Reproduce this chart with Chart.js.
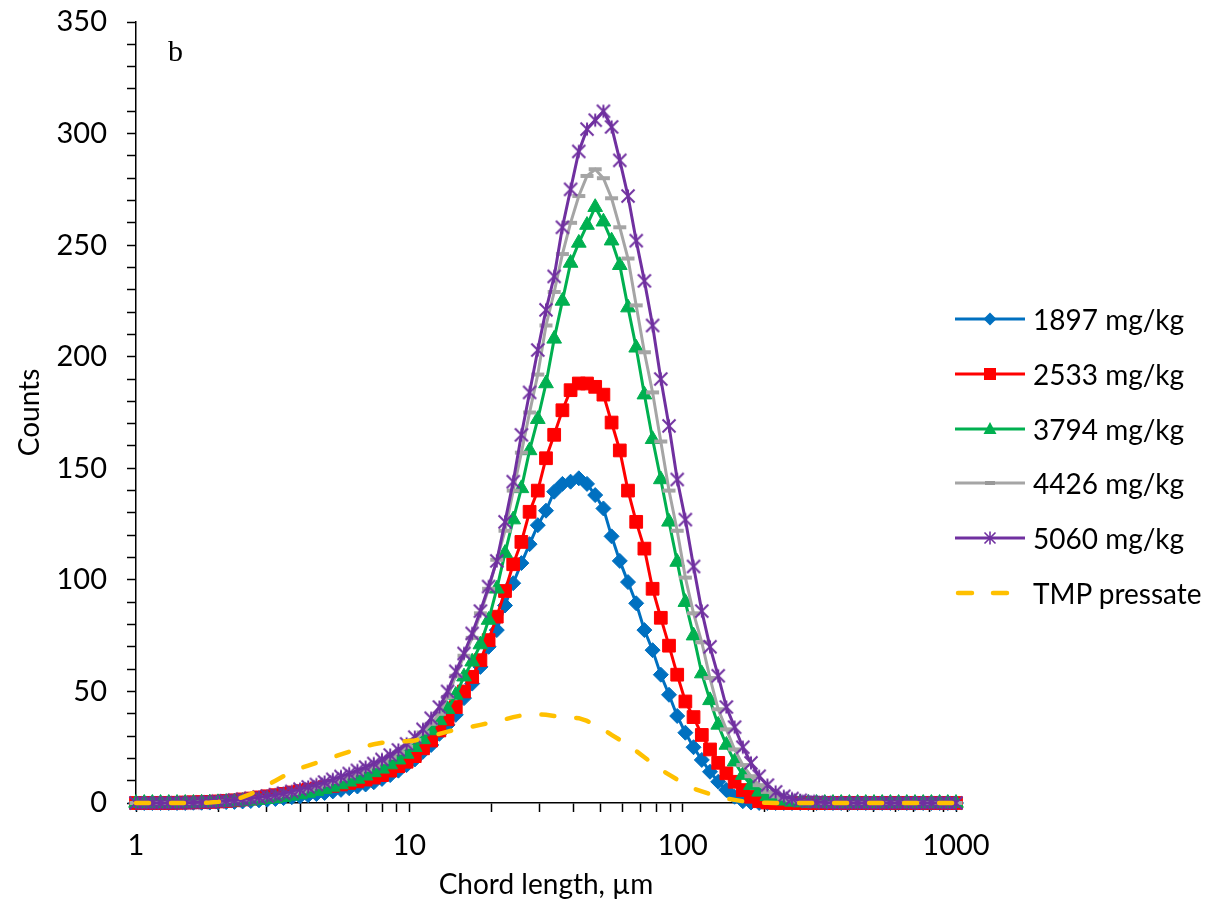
<!DOCTYPE html>
<html>
<head>
<meta charset="utf-8">
<script src="https://cdn.jsdelivr.net/npm/chart.js@4.4.0/dist/chart.umd.min.js"></script>
<style>
  body { margin: 0; background: #fff; }
  #wrap { position: relative; width: 1225px; height: 919px; }
  #legend { position: absolute; left: 955px; top: 292px; font-family: Lato, sans-serif; font-size: 28px; color: #000; }
  .row { display: flex; align-items: center; height: 54.7px; white-space: nowrap; }
  .row canvas { width: 72px; height: 26px; margin-right: 6px; }
</style>
</head>
<body>
<div id="wrap">
  <canvas id="chart" width="1225" height="919"></canvas>
  <div id="legend"></div>
</div>
<script>
// Chord length channels (µm), log spaced
const xs = [1, 1.072, 1.148, 1.230, 1.318, 1.413, 1.514, 1.622, 1.738, 1.862,
  1.995, 2.138, 2.291, 2.455, 2.630, 2.818, 3.020, 3.236, 3.467, 3.715,
  3.981, 4.266, 4.571, 4.898, 5.248, 5.623, 6.026, 6.457, 6.918, 7.413,
  7.943, 8.511, 9.120, 9.772, 10.47, 11.22, 12.02, 12.88, 13.80, 14.79,
  15.85, 16.98, 18.20, 19.50, 20.89, 22.39, 23.99, 25.70, 27.54, 29.51,
  31.62, 33.88, 36.31, 38.90, 41.69, 44.67, 47.86, 51.29, 54.95, 58.88,
  63.10, 67.61, 72.44, 77.62, 83.18, 89.13, 95.50, 102.3, 109.6, 117.5,
  125.9, 134.9, 144.5, 154.9, 166.0, 177.8, 190.5, 204.2, 218.8, 234.4,
  251.2, 269.2, 288.4, 309.0, 331.1, 354.8, 380.2, 407.4, 436.5, 467.7,
  501.2, 537.0, 575.4, 616.6, 660.7, 707.9, 758.6, 812.8, 871.0, 933.3,
  1000];

const s1897 = [0, 0, 0, 0, 0, 0, 0, 0.1, 0.1, 0.2,
  0.3, 0.4, 0.5, 0.7, 0.9, 1.2, 1.5, 1.8, 2.2, 2.6,
  3.0, 3.5, 4.0, 4.5, 5.2, 5.9, 6.6, 7.4, 8.3, 9.3,
  10.8, 12.5, 14.5, 17, 19.5, 23, 26, 31, 35, 39.5,
  47, 53.5, 61, 70, 77.5, 88.5, 98.5, 107.5, 116, 124.5,
  131, 139.5, 143, 144, 145.5, 143, 138, 132, 119.5, 108.5,
  99, 89.5, 77.5, 68.5, 57.5, 48.5, 39, 31.5, 25, 19.3,
  14, 9.5, 5.8, 2.8, 0.8, 0.2, 0, 0, 0, 0,
  0, 0, 0, 0, 0, 0, 0, 0, 0, 0,
  0, 0, 0, 0, 0, 0, 0, 0, 0, 0,
  0];

const s2533 = [0, 0, 0, 0, 0, 0.1, 0.2, 0.3, 0.4, 0.5,
  0.7, 0.9, 1.2, 1.6, 2.0, 2.5, 3.0, 3.5, 4.1, 4.7,
  5.3, 5.9, 6.5, 7.1, 7.7, 8.3, 9.0, 9.7, 10.5, 11.4,
  12.5, 14.5, 16.5, 18.5, 21, 24.5, 28, 32.5, 37.5, 43,
  50, 56.5, 64, 73, 83.5, 95, 107, 117, 130.5, 140,
  154.5, 165, 176, 185, 188, 188, 186.5, 183, 170.5, 158,
  140, 126, 114, 96, 83, 70.5, 57.5, 45.5, 38.5, 30.5,
  24, 18, 13.3, 9.5, 5.8, 2.8, 0.8, 0.2, 0, 0,
  0, 0, 0, 0, 0, 0, 0, 0, 0, 0,
  0, 0, 0, 0, 0, 0, 0, 0, 0, 0,
  0];

const s3794 = [0, 0, 0, 0, 0, 0, 0, 0, 0.1, 0.2,
  0.3, 0.4, 0.6, 0.8, 1.0, 1.3, 1.7, 2.1, 2.6, 3.2,
  3.8, 4.5, 5.3, 6.2, 7.2, 8.3, 9.5, 10.8, 12.2, 13.7,
  15.3, 17.2, 19.4, 22, 25, 28.5, 32.5, 37, 42, 48.4,
  56.6, 63.3, 71, 82, 96, 112, 127, 141, 158, 172,
  188, 208, 225, 242, 251, 259, 267, 260.5, 252, 241,
  222, 204, 183, 163, 145, 126, 108, 90, 75, 58,
  46, 35, 26, 18.5, 12.5, 8, 5, 3, 1.8, 1,
  0.5, 0.2, 0, 0, 0, 0, 0, 0, 0, 0,
  0, 0, 0, 0, 0, 0, 0, 0, 0, 0,
  0];

const s4426 = [0, 0, 0, 0, 0, 0, 0, 0.1, 0.2, 0.3,
  0.5, 0.7, 1.0, 1.3, 1.7, 2.1, 2.6, 3.1, 3.7, 4.4,
  5.2, 6.1, 7.1, 8.2, 9.4, 10.7, 12.0, 13.4, 14.9, 16.5,
  18.3, 20.3, 22.6, 25.2, 28.2, 31.6, 35.5, 40, 47.5, 57,
  66, 74, 85, 96, 109, 122, 140, 157, 175, 192,
  214, 229, 246, 260, 272, 281, 284, 280, 271, 258,
  244, 223, 202, 184, 162, 140, 122, 101, 85, 72,
  56, 42, 33, 24, 17, 12, 8, 5, 3, 2,
  1.2, 0.7, 0.4, 0.2, 0, 0, 0, 0, 0, 0,
  0, 0, 0, 0, 0, 0, 0, 0, 0, 0,
  0];

const s5060 = [0, 0, 0, 0, 0, 0.1, 0.1, 0.2, 0.3, 0.5,
  0.7, 1, 1.3, 1.7, 2.1, 2.6, 3.1, 3.7, 4.4, 5.2,
  6.2, 7.2, 8.3, 9.4, 10.6, 11.9, 13.2, 14.6, 16.1, 17.7,
  19.5, 21.5, 23.8, 26.5, 29.5, 33, 38, 43, 50, 59,
  67, 76, 86, 97, 108.5, 126, 144, 165, 184, 203,
  221, 236, 258, 275, 292, 302, 306, 310, 303, 288,
  272, 252, 234, 214, 190, 169, 145, 127, 106, 86,
  70, 57, 43, 34, 25, 18, 12, 8, 5, 3,
  2, 1.2, 0.7, 0.4, 0.2, 0, 0, 0, 0, 0,
  0, 0, 0, 0, 0, 0, 0, 0, 0, 0,
  0];

const sTmp = [0, 0, 0, 0, 0, 0, 0, 0, 0, 0.2,
  0.5, 0.9, 1.5, 2.6, 4, 6, 8, 10, 12, 14,
  15.5, 16.8, 18, 19.3, 20.5, 21.8, 23, 24.3, 25.5, 26.3,
  27, 27.3, 27.5, 27.7, 28, 29, 30, 31, 32, 32.8,
  33.5, 34.2, 35, 35.8, 36.5, 37.5, 38.5, 39.2, 39.5, 39.7,
  39.5, 39, 38.5, 38.3, 38, 36.8, 35, 33, 30.5, 28.3,
  26, 23.3, 20.5, 17.8, 15, 12.7, 10.5, 8.4, 6.5, 5.2,
  4, 2.9, 2, 1.4, 0.8, 0.5, 0.2, 0.1, 0, 0,
  0, 0, 0, 0, 0, 0, 0, 0, 0, 0,
  0, 0, 0, 0, 0, 0, 0, 0, 0, 0,
  0];

const seriesNames = ['1897 mg/kg', '2533 mg/kg', '3794 mg/kg', '4426 mg/kg', '5060 mg/kg', 'TMP pressate'];
const xTickValues = [1, 2, 3, 4, 5, 6, 7, 8, 9, 10, 20, 30, 40, 50, 60, 70, 80, 90,
  100, 200, 300, 400, 500, 600, 700, 800, 900, 1000];
const xTickLabels = [1, 10, 100, 1000];
const yTickLabels = [0, 50, 100, 150, 200, 250, 300, 350];

const BLUE = '#0070C0', RED = '#FF0000', GREEN = '#00B050', GRAY = '#A5A5A5', PURPLE = '#7030A0', YELLOW = '#FFC000';

Chart.defaults.font.family = 'Lato, sans-serif';
Chart.defaults.color = '#000';

// asterisk-like marker (X with vertical bar)
function starMarker(color, size, lw) {
  const c = document.createElement('canvas');
  c.width = c.height = size;
  const g = c.getContext('2d');
  const m = size / 2, r = size / 2 - 1.5;
  g.strokeStyle = color;
  g.lineWidth = lw;
  g.beginPath();
  g.moveTo(m - r, m - r); g.lineTo(m + r, m + r);
  g.moveTo(m + r, m - r); g.lineTo(m - r, m + r);
  g.moveTo(m, m - r); g.lineTo(m, m + r);
  g.stroke();
  return c;
}

const toPts = (arr) => xs.map((x, i) => ({ x: x, y: arr[i] }));

const ctx = document.getElementById('chart').getContext('2d');
new Chart(ctx, {
  type: 'line',
  data: {
    datasets: [
      { label: seriesNames[0], data: toPts(s1897), borderColor: BLUE, backgroundColor: BLUE, borderWidth: 3,
        pointStyle: 'rectRot', pointRadius: 7.5, pointBorderWidth: 1, order: 6, clip: false },
      { label: seriesNames[1], data: toPts(s2533), borderColor: RED, backgroundColor: RED, borderWidth: 3,
        pointStyle: 'rect', pointRadius: 9, pointBorderWidth: 1, order: 5, clip: false },
      { label: seriesNames[2], data: toPts(s3794), borderColor: GREEN, backgroundColor: GREEN, borderWidth: 3,
        pointStyle: 'triangle', pointRadius: 8.5, pointBorderWidth: 1, order: 4, clip: false },
      { label: seriesNames[3], data: toPts(s4426), borderColor: GRAY, backgroundColor: GRAY, borderWidth: 3,
        pointStyle: 'line', pointRadius: 6.5, pointBorderWidth: 4, order: 3, clip: false },
      { label: seriesNames[4], data: toPts(s5060), borderColor: PURPLE, backgroundColor: PURPLE, borderWidth: 3,
        pointStyle: starMarker(PURPLE, 16, 2), pointRadius: 7, order: 2, clip: false },
      { label: seriesNames[5], data: toPts(sTmp), borderColor: YELLOW, borderWidth: 4.5,
        borderDash: [13, 22], borderCapStyle: 'round', pointRadius: 0, order: 1, clip: false }
    ]
  },
  options: {
    responsive: false,
    animation: false,
    layout: { padding: { left: 0, top: 22, right: 269, bottom: 0 } },
    elements: { line: { tension: 0 } },
    plugins: { legend: { display: false }, tooltip: { enabled: false } },
    scales: {
      x: {
        type: 'logarithmic', min: 1, max: 1000,
        border: { color: '#000', width: 1.5 },
        grid: { drawOnChartArea: false, tickLength: 9, tickColor: '#000', tickWidth: 1.5 },
        afterBuildTicks: (scale) => { scale.ticks = xTickValues.map(v => ({ value: v })); },
        ticks: {
          autoSkip: false, maxRotation: 0, padding: 16, color: '#000', font: { size: 29 },
          callback: (v) => xTickLabels.includes(v) ? String(v) : ''
        },
        title: { display: true, text: 'Chord length, µm', color: '#000', font: { size: 28 }, padding: { top: 0, bottom: 17 } },
        afterFit: (scale) => { scale.height = 116; scale.paddingLeft = 0; scale.paddingRight = 0; }
      },
      y: {
        min: 0, max: 350,
        border: { color: '#000', width: 1.5 },
        grid: { drawOnChartArea: false, tickLength: 9, tickColor: '#000', tickWidth: 1.5 },
        ticks: {
          stepSize: 10, autoSkip: false, padding: 20, color: '#000', font: { size: 29 },
          callback: (v) => yTickLabels.includes(v) ? String(v) : ''
        },
        title: { display: true, text: 'Counts', color: '#000', font: { size: 28 }, padding: { top: 13, bottom: 0 } },
        afterFit: (scale) => { scale.width = 136; scale.paddingTop = 0; scale.paddingBottom = 0; }
      }
    }
  },
  plugins: [{
    id: 'panelLetter',
    afterDraw(chart) {
      const c = chart.ctx;
      c.save();
      c.font = '30px "Liberation Serif", serif';
      c.fillStyle = '#000';
      c.textBaseline = 'alphabetic';
      c.fillText('b', chart.chartArea.left + 32, chart.chartArea.top + 39);
      c.restore();
    }
  }]
});

// legend with line + marker icons
function drawIcon(g, i) {
  const y = 13;
  const colors = [BLUE, RED, GREEN, GRAY, PURPLE, YELLOW];
  const col = colors[i];
  g.strokeStyle = col; g.fillStyle = col;
  if (i === 5) {
    g.lineWidth = 4.5; g.lineCap = 'round';
    g.beginPath();
    g.moveTo(3, y); g.lineTo(17, y);
    g.moveTo(38, y); g.lineTo(52, y);
    g.stroke();
    return;
  }
  g.lineWidth = 3;
  g.beginPath(); g.moveTo(0, y); g.lineTo(70, y); g.stroke();
  const cx = 35;
  if (i === 0) {
    g.beginPath(); g.moveTo(cx, y - 6.5); g.lineTo(cx + 6.5, y); g.lineTo(cx, y + 6.5); g.lineTo(cx - 6.5, y); g.closePath(); g.fill();
  } else if (i === 1) {
    g.fillRect(cx - 6, y - 6, 12, 12);
  } else if (i === 2) {
    g.beginPath(); g.moveTo(cx, y - 7); g.lineTo(cx + 6.5, y + 5); g.lineTo(cx - 6.5, y + 5); g.closePath(); g.fill();
  } else if (i === 3) {
    g.fillStyle = '#999'; g.fillRect(cx - 5, y - 2, 10, 4);
  } else if (i === 4) {
    g.lineWidth = 1.6;
    g.beginPath();
    g.moveTo(cx - 5.5, y - 5.5); g.lineTo(cx + 5.5, y + 5.5);
    g.moveTo(cx + 5.5, y - 5.5); g.lineTo(cx - 5.5, y + 5.5);
    g.moveTo(cx, y - 6.5); g.lineTo(cx, y + 6.5);
    g.stroke();
  }
}

const legend = document.getElementById('legend');
seriesNames.forEach((name, i) => {
  const row = document.createElement('div');
  row.className = 'row';
  const icon = document.createElement('canvas');
  icon.width = 72; icon.height = 26;
  drawIcon(icon.getContext('2d'), i);
  const label = document.createElement('span');
  label.textContent = name;
  row.appendChild(icon);
  row.appendChild(label);
  legend.appendChild(row);
});
</script>
</body>
</html>
